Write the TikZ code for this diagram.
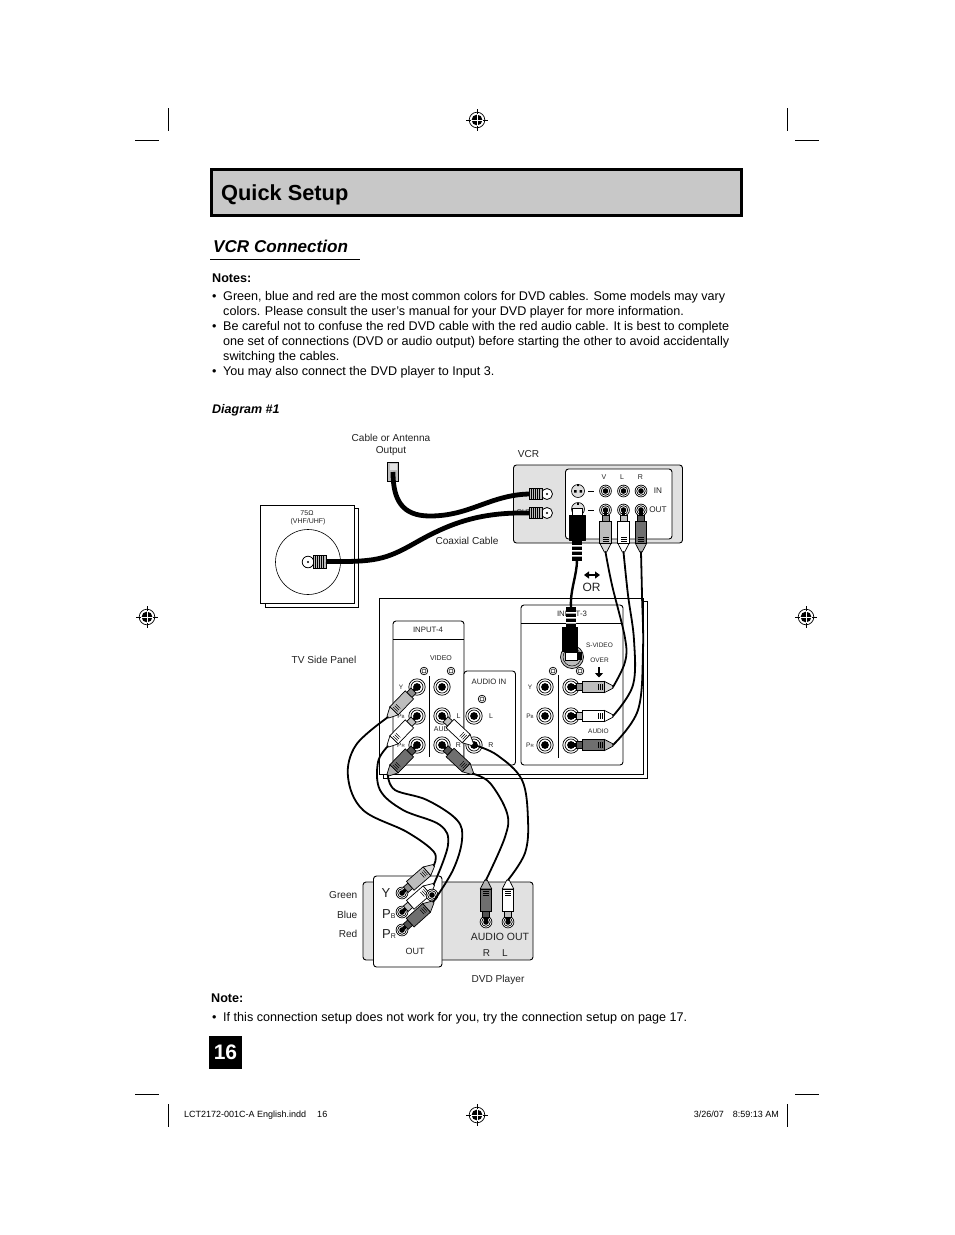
\documentclass[tikz,border=0pt]{standalone}
\usepackage{fontspec}
\setmainfont{Liberation Sans}
\usetikzlibrary{calc,arrows.meta}
\newcommand{\fsz}[1]{\fontsize{#1}{#1}\selectfont}
\definecolor{titlegray}{HTML}{C8C8C8}
\definecolor{panelgray}{HTML}{E1E1E1}
\definecolor{plugmid}{HTML}{BDBDBD}
\definecolor{plugdark}{HTML}{6F6F6F}
\definecolor{labelgray}{HTML}{222222}
\tikzset{
  lbl/.style={inner sep=0pt,text=labelgray},
  bodytxt/.style={inner sep=0pt,anchor=base west,font=\fsz{12.6}},
  headtxt/.style={inner sep=0pt,anchor=base west,font=\fsz{12.6}\bfseries},
  tiny lbl/.style={lbl,font=\fsz{7}},
  panel lbl/.style={lbl,font=\fsz{7.8}},
  small lbl/.style={lbl,font=\fsz{10.1}},
  cropline/.style={line width=0.9pt},
  thincable/.style={line width=1.8pt,line cap=round,line join=round},
  coax/.style={line width=4.8pt,line cap=butt},
  panel/.style={draw,line width=0.9pt,fill=white,rounded corners=3pt},
  sheet/.style={draw,line width=0.9pt,fill=white},
}
% concentric socket: name, x, y, scale
\newcommand{\jack}[4]{%
  \coordinate (#1) at (#2,#3);
  \begin{scope}[shift={(#1)},scale=#4]
    \filldraw[fill=white,line width=0.7pt] (0,0) circle (8.2);
    \draw[line width=0.7pt] (0,0) circle (6);
    \fill (0,0) circle (3.9);
  \end{scope}}
% small ground ring
\newcommand{\ring}[3]{%
  \coordinate (#1) at (#2,#3);
  \filldraw[fill=white,line width=0.7pt] (#1) circle (3.8);
  \draw[line width=0.5pt] (#1) circle (2);}
% phono plug seated in a socket: name, socket, direction of the tail, fill
\newcommand{\plug}[4]{%
  \begin{scope}[shift={(#2)},rotate=#3]
    \coordinate (#1) at (42,0);
    \fill (0,-1.6) rectangle (7,1.6);
    \filldraw[fill=#4!75!black,line width=0.7pt] (5,-3.6) rectangle (11,3.6);
    \filldraw[fill=#4!55!white,line width=0.7pt,line join=round] (33,-5.8) -- (42,-1.2) -- (42,1.2) -- (33,5.8) -- cycle;
    \filldraw[fill=#4,line width=0.7pt] (11,-5.8) rectangle (33,5.8);
    \foreach \s in {27,29,31} \draw[line width=0.5pt] (\s,-3) -- (\s,3);
  \end{scope}}
% threaded coax connector, cable coming from the left
\newcommand{\fconn}[3]{%
  \coordinate (#1) at (#2,#3);
  \begin{scope}[shift={(#1)}]
    \filldraw[fill=white,line width=0.8pt] (0,0) circle (5.5);
    \fill (0,0) circle (1.1);
    \filldraw[fill=plugmid,line width=0.7pt] (-18,-5.5) rectangle (-5,5.5);
    \foreach \s in {-16,-14,-12,-10,-8} \draw[line width=0.5pt] (\s,-5.5) -- (\s,5.5);
    \coordinate (#1-t) at (-18,0);
  \end{scope}}
% print registration target
\newcommand{\regmark}[3]{%
  \coordinate (#1) at (#2,#3);
  \begin{scope}[shift={(#1)}]
    \draw[line width=0.5pt] (-11,0) -- (11,0) (0,-11) -- (0,11);
    \draw[line width=0.7pt] (0,0) circle (7.8);
    \fill (0,0) circle (5.4);
    \draw[white,line width=1pt] (-6,0) -- (6,0) (0,-6) -- (0,6);
  \end{scope}}
\begin{document}
\begin{tikzpicture}[x=1pt,y=-1pt]
\useasboundingbox (0,0) rectangle (954,1235);
\fill[white] (0,0) rectangle (954,1235);

% crop marks and targets
\draw[cropline] (168,108) -- (168,131) (135,140) -- (159,140)
  (787,108) -- (787,131) (795,140) -- (819,140)
  (135,1094) -- (159,1094) (168,1104) -- (168,1127)
  (795,1094) -- (819,1094) (787,1104) -- (787,1127);
\regmark{regA}{477}{120}
\regmark{regB}{147}{617}
\regmark{regC}{806}{617}
\regmark{regD}{477}{1115}

% page heading
\node[draw,line width=3pt,fill=titlegray,outer sep=0pt,minimum width=530pt,minimum height=46pt,anchor=north west,inner sep=0pt] (titlebox) at (211.5,169.5) {};
\node[inner sep=0pt,anchor=base west,font=\fsz{21.8}\bfseries] (title) at (221,200.5) {Quick Setup};
\node[inner sep=0pt,anchor=base west,font=\fsz{17.1}\bfseries\itshape] (section) at (213,252) {VCR Connection};
\draw[line width=1pt] (210,259.5) -- (360,259.5);

% notes above the diagram
\node[headtxt] (notes) at (212,282) {Notes:};
\node[bodytxt] (b1) at (212,300) {•};
\node[bodytxt] (n1) at (223,300) {\hbox to 502pt{Green, blue and red are the most common colors for DVD cables. Some models may vary}};
\node[bodytxt] (n2) at (223,315) {colors. Please consult the user’s manual for your DVD player for more information.};
\node[bodytxt] (b2) at (212,330) {•};
\node[bodytxt] (n3) at (223,330) {\hbox to 506pt{Be careful not to confuse the red DVD cable with the red audio cable. It is best to complete}};
\node[bodytxt] (n4) at (223,345) {\hbox to 506pt{one set of connections (DVD or audio output) before starting the other to avoid accidentally}};
\node[bodytxt] (n5) at (223,360) {switching the cables.};
\node[bodytxt] (b3) at (212,375) {•};
\node[bodytxt] (n6) at (223,375) {You may also connect the DVD player to Input 3.};
\node[inner sep=0pt,anchor=base west,font=\fsz{12.5}\bfseries\itshape] (diag) at (212,413) {Diagram \#1};

% wall outlet
\filldraw[fill=plugmid,line width=1pt] (387.5,462.5) rectangle (398.5,481.5);
\fill[white!60!plugmid] (389.5,464) rectangle (396.5,470);
\node[small lbl] (cableout1) at (391,438) {Cable or Antenna};
\node[small lbl] (cableout2) at (391,451.5) {Output};
\coordinate (outlet) at (393,472);

% antenna plate
\draw[sheet] (265,508) rectangle (358.5,607);
\draw[sheet] (260.5,505) rectangle (354.5,603);
\draw[line width=0.6pt] (308,562) circle (32.5);
\node[tiny lbl] (ohm) at (307,513) {75Ω};
\node[tiny lbl] (vhf) at (308,521.5) {(VHF/UHF)};
\coordinate (plate) at (308,562);
\filldraw[fill=white,line width=0.8pt] (plate) circle (5.8);
\fill (plate) circle (1.1);
\filldraw[fill=plugmid,line width=0.7pt] (313,555.5) rectangle (326,568.5);
\foreach \s in {315,317,319,321,323} \draw[line width=0.5pt] (\s,555.5) -- (\s,568.5);
\coordinate (plate-t) at (326,561.5);

% VCR
\node[small lbl] (vcrlabel) at (528.5,454) {VCR};
\draw[panel,fill=panelgray] (513.5,465) rectangle (682.5,543);
\draw[panel] (565.5,469) rectangle (672,539);
\node[lbl,font=\fsz{7}] (oldlabel) at (524,512) {OUT};
\foreach \n/\x in {V/604,L/622,R/640.5} \node[tiny lbl] (hd\n) at (\x,477.5) {\n};
\node[lbl,font=\fsz{8.2}] (vin) at (658,491) {IN};
\node[lbl,font=\fsz{8.2}] (vout) at (658,510) {OUT};
\jack{vv}{605.5}{491}{0.72}
\jack{vl}{623.5}{491}{0.72}
\jack{vr}{641}{491}{0.72}
\jack{ov}{605.5}{510}{0.72}
\jack{ol}{623.5}{510}{0.72}
\jack{or}{641}{510}{0.72}
\draw[line width=0.9pt] (588,491) -- (594,491) (588,510) -- (594,510);
\coordinate (svin) at (578,491);
\coordinate (svout) at (578,509);
\filldraw[fill=plugmid!50!white,line width=0.6pt] (svin) circle (6.5);
\filldraw[fill=plugmid!50!white,line width=0.6pt] (svout) circle (6.5);
\fill (574,490) rectangle (576.5,492.5) (579.5,490) rectangle (582,492.5) (577,484) rectangle (579,486);
\fill (577,503) rectangle (579,505);
\fconn{fa}{547}{494}
\fconn{fb}{547}{513}

% TV side panel
\node[small lbl] (tvlabel) at (324,660) {TV Side Panel};
\draw[sheet] (383,601.5) rectangle (647,778);
\draw[sheet] (379.5,598) rectangle (643.5,774.5);

% INPUT-3 block
\draw[panel] (521,605) rectangle (623,765);
\draw[line width=0.8pt] (521,623) -- (623,623);
\node[panel lbl] (i3) at (572,614) {INPUT-3};
\node[font=\fsz{6.5},lbl] (sv) at (599.5,645.5) {S-VIDEO};
\node[font=\fsz{6.5},lbl] (over) at (599.5,660.5) {OVER};
\node[font=\fsz{6.5},lbl] (aud3) at (598.5,731.5) {AUDIO};
\draw[line width=2.6pt,-{Triangle[length=4.5pt,width=8pt]}] (599,667) -- (599,677.5);
\ring{r3a}{553}{671}
\ring{r3b}{580}{671}
\draw[line width=0.9pt] (558,675) -- (558,758);
\foreach \nm/\yy/\t in {a/687/Y,b/716/P\fsz{4.5}B,c/745/P\fsz{4.5}R} {
  \jack{i3l\nm}{545}{\yy}{1}
  \jack{i3r\nm}{571}{\yy}{1}
  \node[font=\fsz{6.5},lbl] (i3t\nm) at (530,\yy) {\t};
}

% S-Video socket on INPUT-3
\coordinate (svtv) at (572,657);
\filldraw[fill=plugmid,line width=0.7pt] (svtv) circle (11.5);
\draw[line width=0.5pt] (svtv) circle (9);

% INPUT-4 block
\draw[panel] (393,621) rectangle (464,765);
\draw[line width=0.8pt] (393,639) -- (464,639);
\node[panel lbl] (i4) at (428,630) {INPUT-4};
\node[tiny lbl] (vid4) at (441,658.5) {VIDEO};
\ring{r4a}{424}{671}
\ring{r4b}{451}{671}
\draw[line width=0.9pt] (429,676) -- (429,757);
\foreach \nm/\yy/\t in {a/687/Y,b/716/P\fsz{4.5}B,c/745/P\fsz{4.5}R} {
  \jack{i4l\nm}{417}{\yy}{1}
  \jack{i4r\nm}{442}{\yy}{1}
  \node[font=\fsz{6.5},lbl] (i4t\nm) at (401,\yy) {\t};
}
\node[font=\fsz{7},lbl] (i4L) at (458.5,716) {L};
\node[font=\fsz{7},lbl] (i4R) at (458.5,745) {R};
\node[font=\fsz{7},lbl] (aud4) at (445,729.5) {AUDIO};

% AUDIO IN block
\draw[panel] (464,671) rectangle (515.5,765);
\node[panel lbl] (ain) at (489,682) {AUDIO IN};
\ring{r5}{482}{699}
\jack{ainl}{474}{716}{1}
\jack{ainr}{474}{745}{1}
\node[tiny lbl] (ainL) at (491,716) {L};
\node[tiny lbl] (ainR) at (491,745) {R};

% DVD player
\draw[panel,fill=panelgray] (363,882) rectangle (533,960);
\draw[panel] (373.5,876) rectangle (442,967);
\node[lbl,font=\fsz{13}] (dylabel) at (386,893) {Y};
\node[lbl,font=\fsz{13},anchor=base west] (dpblabel) at (382,918) {P\fsz{7}B};
\node[lbl,font=\fsz{13},anchor=base west] (dprlabel) at (382,938) {P\fsz{7}R};
\node[lbl,font=\fsz{9}] (dout) at (415,951) {OUT};
\node[lbl,font=\fsz{10.5}] (aout) at (500,936.5) {AUDIO OUT};
\node[lbl,font=\fsz{10}] (ar) at (486.5,953.5) {R};
\node[lbl,font=\fsz{10}] (al) at (505,953.5) {L};
\node[small lbl] (dvdlabel) at (498,980) {DVD Player};
\node[small lbl,anchor=east] (green) at (357.5,895) {Green};
\node[small lbl,anchor=east] (blue) at (357.5,915) {Blue};
\node[small lbl,anchor=east] (red) at (357.5,934) {Red};
\jack{dy}{402}{893}{0.72}
\jack{dpb}{402}{912}{0.72}
\jack{dpr}{402}{930}{0.72}
\jack{dar}{486}{922}{0.72}
\jack{dal}{508}{922}{0.72}

% coaxial cables
\draw[coax] (outlet) .. controls (393,500) and (402,516) .. (430,516) .. controls (470,516) and (490,495) .. (fa-t);
\draw[coax] (plate-t) .. controls (375,562) and (385,560) .. (415,543) .. controls (450,523) and (480,512) .. (fb-t);
\node[small lbl] (coaxlabel) at (467,541) {Coaxial Cable};

% S-Video lead
\coordinate (svvcrtail) at (577,560);
\coordinate (svtvtail) at (571,607);
\draw[thincable,line width=2.4pt] (svvcrtail) .. controls (577,575) and (570,590) .. (svtvtail);
\fill (572,540) rectangle (582,561);
\fill[white] (572,545) rectangle (582,546.5) (572,550) rectangle (582,551.5) (572,555) rectangle (582,556.5);
\filldraw[fill=black,line join=round] (569,515) rectangle (585,540);
\filldraw[fill=white,line width=0.8pt] (572,508) rectangle (582,515);
\fill (566,607) rectangle (576,628);
\fill[white] (566,612) rectangle (576,613.5) (566,617) rectangle (576,618.5) (566,622) rectangle (576,623.5);
\fill (562,627) rectangle (578,652);
\filldraw[fill=white,line width=0.8pt] (565,652) rectangle (577,660);
\fill (577,652) rectangle (582,660);

% phono leads from the VCR to INPUT-3
\plug{pv}{ov}{-90}{plugmid}
\plug{pl}{ol}{-90}{white}
\plug{pr}{or}{-90}{plugdark}
\plug{qv}{i3ra}{0}{plugmid}
\plug{ql}{i3rb}{0}{white}
\plug{qr}{i3rc}{0}{plugdark}
\draw[thincable] plot[smooth,tension=0.6] coordinates {(pv) (612,585) (625,638) (625,662) (qv)};
\draw[thincable] plot[smooth,tension=0.6] coordinates {(pl) (628,595) (634,640) (633,685) (ql)};
\draw[thincable] plot[smooth,tension=0.6] coordinates {(pr) (642,595) (643,650) (638,710) (qr)};

% leads between INPUT-4 and the DVD player
\plug{cy}{i4la}{226}{plugmid}
\plug{cb}{i4lb}{226}{white}
\plug{cr}{i4lc}{226}{plugdark}
\plug{cl2}{i4rb}{-43}{white}
\plug{cr2}{i4rc}{-43}{plugdark}
\plug{ey}{dy}{41}{plugmid}
\plug{eb}{dpb}{41}{white}
\plug{er}{dpr}{42}{plugdark}
\plug{ear}{dar}{90}{plugdark}
\plug{eal}{dal}{90}{white}
\jack{dz}{432}{895}{0.72}
\draw[thincable] plot[smooth,tension=0.6] coordinates {(cy) (356,745) (348,777) (363,810) (407,832) (434,852) (ey)};
\draw[thincable] plot[smooth,tension=0.6] coordinates {(cb) (378,762) (380,790) (403,810) (440,825) (448,845) (eb)};
\draw[thincable] plot[smooth,tension=0.6] coordinates {(cr) (395,790) (427,800) (457,820) (462,840) (453,870) (er)};
\draw[thincable] plot[smooth,tension=0.6] coordinates {(cr2) (490,783) (507,813) (505,837) (ear)};
\draw[thincable] plot[smooth,tension=0.6] coordinates {(ainr) (497,755) (522,780) (528,820) (525,853) (eal)};

% double arrow between the two S-Video ends
\draw[line width=1.2pt,{Triangle[length=5pt,width=7pt]}-{Triangle[length=5pt,width=7pt]}] (584,575) -- (600,575);
\node[lbl,font=\fsz{12}] (orlabel) at (591.5,587) {OR};

% note under the diagram
\node[headtxt] (note) at (211,1002) {Note:};
\node[bodytxt] (b4) at (212,1021) {•};
\node[bodytxt] (n7) at (223,1021) {\hbox to 464pt{If this connection setup does not work for you, try the connection setup on page 17.}};

% folio
\node[fill=black,minimum size=33pt,inner sep=0pt,outer sep=0pt,anchor=north west] (foliobox) at (209,1036) {};
\node[text=white,font=\fsz{21}\bfseries,inner sep=0pt] (folio) at (foliobox.center) {16};

% slug line
\node[inner sep=0pt,anchor=base west,font=\fsz{9}] (slug1) at (184,1117) {LCT2172-001C-A English.indd\hspace{11pt}16};
\node[inner sep=0pt,anchor=base east,font=\fsz{9}] (slug2) at (779,1117) {3/26/07\hspace{9pt}8:59:13 AM};
\end{tikzpicture}
\end{document}
